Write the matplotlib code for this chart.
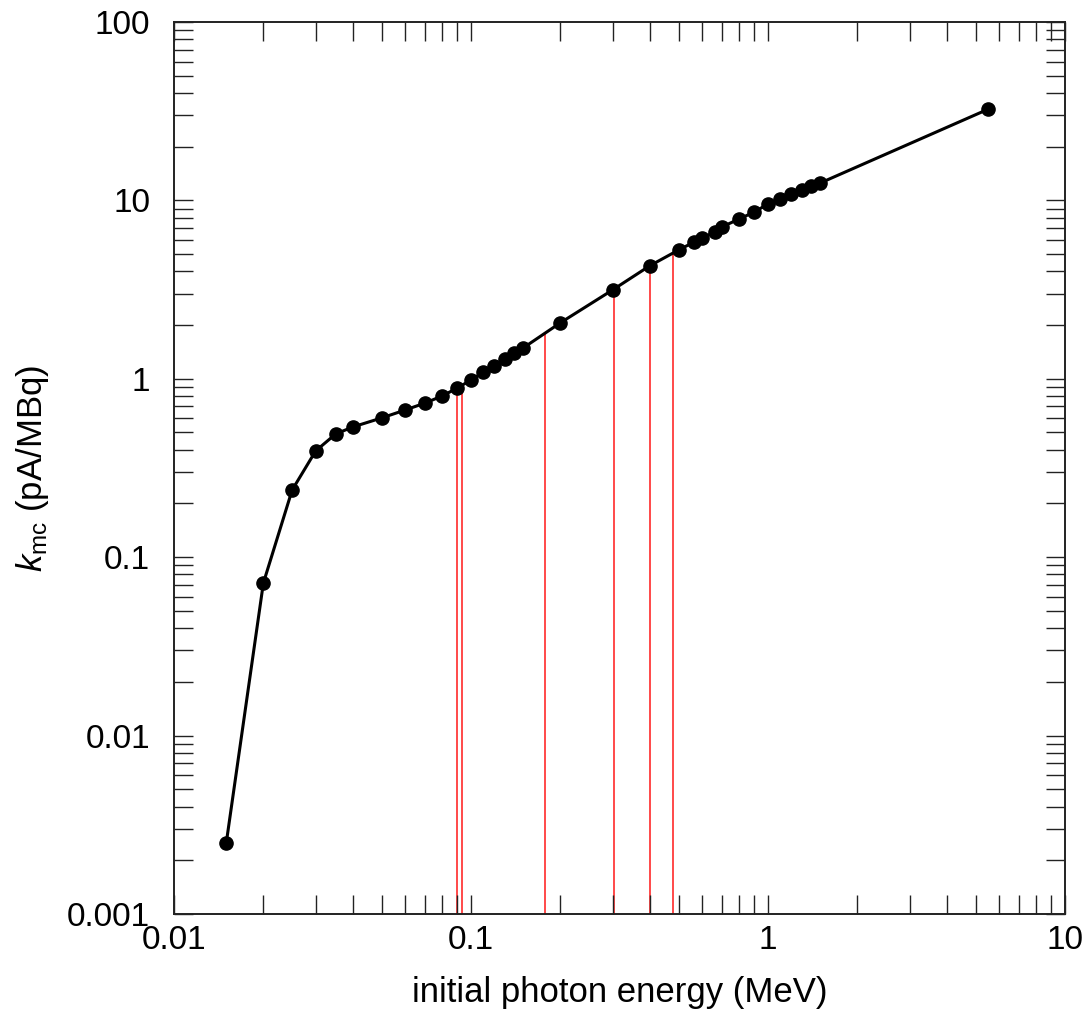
#!/usr/bin/env python
# coding: utf-8

import matplotlib
matplotlib.use('Agg')
import matplotlib.pyplot as plt
import numpy as np

# default plot params
plt.rcParams['font.family'] = ['Liberation Sans', 'DejaVu Sans']
plt.rcParams['mathtext.fontset'] = 'custom'
plt.rcParams['mathtext.rm'] = 'Liberation Sans'
plt.rcParams['mathtext.it'] = 'Liberation Sans:italic'
plt.rcParams['xtick.labelsize'] = 24
plt.rcParams['ytick.labelsize'] = 24
plt.rcParams['axes.labelsize'] = 25

# monte carlo calibration coefficient vs initial photon energy
energy = [0.015, 0.02, 0.025, 0.03, 0.035, 0.04, 0.05, 0.06, 0.07, 0.08,
          0.09, 0.1, 0.11, 0.12, 0.13, 0.14, 0.15, 0.2, 0.3, 0.4,
          0.5, 0.565, 0.6, 0.662, 0.7, 0.8, 0.9, 1.0, 1.1, 1.2,
          1.3, 1.4, 1.5, 5.5]
k_mc = [0.0025, 0.0716, 0.238, 0.394, 0.49, 0.537, 0.603, 0.668, 0.731, 0.801,
        0.888, 0.984, 1.09, 1.18, 1.29, 1.40, 1.49, 2.06, 3.15, 4.3,
        5.27, 5.85, 6.15, 6.65, 7.10, 7.87, 8.61, 9.55, 10.18, 10.86,
        11.43, 12.05, 12.52, 32.4]

# emission lines (red markers), drawn from the bottom up to the curve
line_energy = [0.0895, 0.0933, 0.178, 0.303, 0.401, 0.478]
line_top = [0.888, 0.911, 1.81, 3.15, 4.23, 5.01]

fig = plt.figure(figsize=(10.9, 10.34), dpi=100)
ax = fig.add_axes([0.1596, 0.1161, 0.8174, 0.8626])

ax.vlines(line_energy, 0.001, line_top, colors='#ff2a2a', linewidth=1.2, zorder=1)
ax.plot(energy, k_mc, '-', color='black', linewidth=2.2, zorder=2)
ax.plot(energy, k_mc, 'o', color='black', markersize=9.5, zorder=3)

ax.set_xscale('log')
ax.set_yscale('log')
ax.set_xlim(0.01, 10)
ax.set_ylim(0.001, 100)

ax.set_xticks([0.01, 0.1, 1, 10])
ax.set_xticklabels(['0.01', '0.1', '1', '10'])
ax.set_yticks([0.001, 0.01, 0.1, 1, 10, 100])
ax.set_yticklabels(['0.001', '0.01', '0.1', '1', '10', '100'])

ax.tick_params(which='both', direction='in', top=True, right=True,
               length=14, width=1.0, color='#222222')
ax.tick_params(axis='x', which='major', pad=8)
ax.tick_params(axis='y', which='major', pad=17)
for s in ax.spines.values():
    s.set_linewidth(1.4)
    s.set_color('#222222')

ax.set_xlabel('initial photon energy (MeV)', labelpad=14)
ax.set_ylabel(r'$k_{\rm mc}$ (pA/MBq)', labelpad=12)

plt.savefig('out.png', dpi=100)
plt.close()
